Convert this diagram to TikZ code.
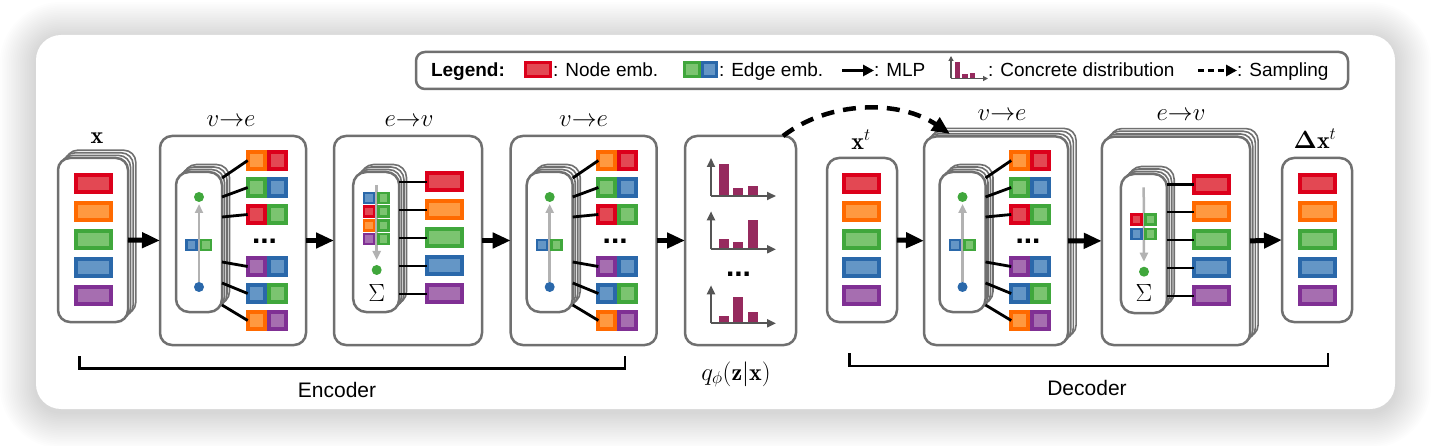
\documentclass[tikz,border=0pt]{standalone}
\usepackage{amsmath}
\usepackage{fontspec}
\newfontfamily\lsans{Liberation Sans}
\usetikzlibrary{arrows.meta,calc}
\definecolor{cR}{RGB}{220,0,27}\definecolor{cRL}{RGB}{227,72,83}
\definecolor{cO}{RGB}{255,106,0}\definecolor{cOL}{RGB}{255,153,64}
\definecolor{cG}{RGB}{64,167,60}\definecolor{cGL}{RGB}{123,196,112}
\definecolor{cB}{RGB}{42,104,170}\definecolor{cBL}{RGB}{100,150,198}
\definecolor{cP}{RGB}{128,48,148}\definecolor{cPL}{RGB}{166,110,176}
\definecolor{barc}{RGB}{150,42,94}
\definecolor{boxgray}{RGB}{112,112,112}
\definecolor{axisgray}{RGB}{85,85,85}
\definecolor{arrowgray}{RGB}{178,178,178}
\tikzset{
 every node/.style={inner sep=0pt, outer sep=0pt},
 box/.style={draw=boxgray, line width=2.5pt, fill=white, rounded corners=12pt},
 backline/.style={draw=boxgray, line width=1.6pt, fill=white},
 pill/.style={draw=boxgray, line width=2.5pt, fill=white, rounded corners=13pt, minimum width=46pt, minimum height=140pt},
 nemb/.style={draw=#1, fill=#1L, line width=4pt, minimum width=35pt, minimum height=17pt},
 eemb/.style={draw=#1, fill=#1L, line width=4pt, minimum width=17pt, minimum height=17pt},
 semb/.style={draw=#1, fill=#1L, line width=2.5pt, minimum width=10pt, minimum height=10pt},
 vdot/.style={circle, fill=#1, minimum size=10pt},
 conn/.style={line width=2.8pt, black},
 bigarrow/.style={line width=5pt, -{Triangle[length=18pt,width=15pt]}},
 grayarrow/.style={arrowgray, line width=2.5pt, -{Triangle[length=9pt,width=8pt]}},
 chartaxis/.style={axisgray, line width=2pt, -{Triangle[length=9pt,width=8pt]}},
 mlabel/.style={font=\fontsize{24}{28}\selectfont, anchor=base},
 stext/.style={font=\lsans\fontsize{19}{22}\selectfont, anchor=base west},
 ellip/.style={font=\lsans\bfseries\fontsize{30}{30}\selectfont},
 sigma/.style={font=\fontsize{27}{27}\selectfont},
}
\newcommand{\stackbox}[6]{%
 \foreach \k in {3,2,1}{\draw[backline, rounded corners=#5pt] (#1+#6*\k,#2-#6*\k) rectangle (#3+#6*\k,#4-#6*\k);}}
\newcommand{\vtoe}[2]{%
\begin{scope}[xshift=#2pt]
 \stackbox{176}{172}{222}{312}{13}{2.5}
 \node[pill] (#1p) at (199,242) {};
 \node[vdot=cG] (#1g) at (199,197) {};
 \node[vdot=cB] (#1b) at (199,287) {};
 \draw[grayarrow, shorten >=2pt] (#1b) -- (#1g);
 \node[semb=cB] (#1s1) at (191.5,245) {};
 \node[semb=cG] (#1s2) at (206,245) {};
 \foreach \y/\cl/\cr/\dy [count=\i] in {160.5/cO/cR/64, 187.5/cG/cB/45, 214.5/cR/cG/25, 266.5/cP/cB/-20, 293.5/cB/cG/-41, 320.5/cO/cP/-63}{
  \node[eemb=\cl] (#1L\i) at (256.2,\y) {};
  \node[eemb=\cr] (#1R\i) at (277.2,\y) {};
  \draw[conn] ([yshift=\dy pt]#1p.east) -- (#1L\i.west);
 }
 \node[ellip] (#1d) at (264.5,241.5) {...};
\end{scope}}
\begin{document}
\begin{tikzpicture}[x=1pt,y=-1pt]
\useasboundingbox (0,0) rectangle (1432,446);
\fill[white] (0,0) rectangle (1432,446);
% shadow and panel
\foreach \i in {1,...,20}{
 \pgfmathsetmacro\ex{1.8*\i}
 \pgfmathsetmacro\rr{25+1.8*\i}
 \fill[black, opacity=0.008, rounded corners=\rr pt] (36-\ex,38-\ex) rectangle (1395+\ex,412+\ex);
}
\fill[white, rounded corners=25pt] (36,35) rectangle (1395,409);

% legend
\node[draw=boxgray, line width=2.5pt, rounded corners=9pt, fill=white, minimum width=932pt, minimum height=37pt] (L) at (882,70.5) {};
\node[stext, font=\lsans\bfseries\fontsize{19}{22}\selectfont] (lg) at (431,77) {Legend:};
\node[draw=cR, fill=cRL, line width=3pt, minimum width=25pt, minimum height=14pt] (lnode) at (538,69.5) {};
\node[stext] (lnt) at (553,77) {: Node emb.};
\node[draw=cG, fill=cGL, line width=3pt, minimum width=14.5pt, minimum height=14pt] (le1) at (692,69.5) {};
\node[draw=cB, fill=cBL, line width=3pt, minimum width=14.5pt, minimum height=14pt] (le2) at (709.5,69.5) {};
\node[stext] (let) at (719,77) {: Edge emb.};
\coordinate (lmA) at (842,70.5); \coordinate (lmB) at (874,70.5);
\draw[line width=3.5pt, -{Triangle[length=11pt,width=11pt]}] (lmA) -- (lmB);
\node[stext] (lmt) at (874,77) {: MLP};
\fill[barc] (954.5,78.5) rectangle (960,62);
\fill[barc] (962,78.5) rectangle (967.5,74);
\fill[barc] (969.5,78.5) rectangle (975,73);
\coordinate (lo) at (951,78.5); \coordinate (lv) at (951,56); \coordinate (lh) at (988,78.5);
\draw[axisgray, line width=1.5pt, -{Triangle[length=5pt,width=5pt]}] (lo) -- (lv);
\draw[axisgray, line width=1.5pt, -{Triangle[length=5pt,width=5pt]}] (lo) -- (lh);
\node[stext] (lct) at (988,77) {: Concrete distribution};
\coordinate (lsA) at (1198,70.5); \coordinate (lsB) at (1237,70.5);
\draw[line width=3.5pt, dash pattern=on 6pt off 4pt, -{Triangle[length=11pt,width=11pt]}] (lsA) -- (lsB);
\node[stext] (lst) at (1237,77) {: Sampling};

% B0 : x
\stackbox{58}{158}{128}{322}{12}{2.6}
\node[box, minimum width=70pt, minimum height=164pt] (B0) at (93,240) {};
\foreach \c/\y [count=\i] in {cR/184,cO/212,cG/240,cB/268,cP/296}{\node[nemb=\c] (x\i) at (93.5,\y) {};}
\node[mlabel] (lx) at (97,143.3) {$\mathbf{x}$};

% B1 : v->e
\node[box, minimum width=146pt, minimum height=209pt] (B1) at (233,240.5) {};
\node[mlabel] (l1) at (231,126.7) {$v{\rightarrow}e$};
\vtoe{a}{0}

% B2 : e->v
\node[box, minimum width=148pt, minimum height=209pt] (B2) at (408,240.5) {};
\node[mlabel] (l2) at (409,126.7) {$e{\rightarrow}v$};
\stackbox{353.3}{172}{399}{312}{13}{2.5}
\node[pill] (P2) at (376.2,242) {};
\coordinate (P2top) at (376.7,185);
\node[vdot=cG] (P2g) at (376.7,270) {};
\draw[grayarrow, shorten >=5pt] (P2top) -- (P2g);
\foreach \cl/\y [count=\i] in {cB/198,cR/211.7,cO/225.4,cP/239.1}{
 \node[semb=\cl] (bL\i) at (369,\y) {};
 \node[semb=cG] (bR\i) at (383.5,\y) {};}
\node[sigma] (P2s) at (376.7,292.7) {$\Sigma$};
\foreach \c/\y [count=\i] in {cR/182,cO/210,cG/238,cB/266,cP/294}{
 \node[nemb=\c] (bn\i) at (444.5,\y) {};
 \draw[conn] (P2.east |- bn\i.west) -- (bn\i.west);}

% B3 : v->e
\node[box, minimum width=146pt, minimum height=209pt] (B3) at (583.7,240.5) {};
\node[mlabel] (l3) at (583.5,126.7) {$v{\rightarrow}e$};
\vtoe{c}{350.7}

% B4 : distributions
\node[box, minimum width=111pt, minimum height=209pt] (B4) at (740.5,240.5) {};
\foreach \b/\ha/\hb/\hc [count=\i] in {196/32/8.3/9.7, 249.3/10.3/7.3/29.3, 323.3/7.3/26.3/11.3}{
 \fill[barc] (719,\b) rectangle (729,\b-\ha);
 \fill[barc] (733.3,\b) rectangle (743.3,\b-\hb);
 \fill[barc] (747.7,\b) rectangle (757.7,\b-\hc);
 \coordinate (o\i) at (711,\b);
 \coordinate (v\i) at (711,\b-38);
 \coordinate (h\i) at (776,\b);
 \draw[chartaxis] (o\i) -- (v\i);
 \draw[chartaxis] (o\i) -- (h\i);
}
\node[ellip] (B4d) at (738.5,274) {...};
\node[mlabel] (q) at (736,380) {$q_\phi(\mathbf{z}|\mathbf{x})$};

% B5 : x^t
\node[box, minimum width=70pt, minimum height=164pt] (B5) at (862,240) {};
\foreach \c/\y [count=\i] in {cR/184,cO/212,cG/240,cB/268,cP/296}{\node[nemb=\c] (t\i) at (861.7,\y) {};}
\node[mlabel] (lxt) at (861,150) {$\mathbf{x}^t$};

% B6 : v->e decoder
\stackbox{924}{136.5}{1068}{345}{12}{2.7}
\node[box, minimum width=144pt, minimum height=208.5pt] (B6) at (996,240.75) {};
\node[mlabel] (l6) at (1002,120.7) {$v{\rightarrow}e$};
\vtoe{f}{763.5}

% B7 : e->v decoder
\stackbox{1101.7}{136.7}{1250}{345}{12}{2.7}
\node[box, minimum width=148.3pt, minimum height=208.3pt] (B7) at (1175.9,240.9) {};
\node[mlabel] (l7) at (1181,120.7) {$e{\rightarrow}v$};
\stackbox{1121}{174}{1166.7}{313}{13}{2.5}
\node[pill, minimum height=139pt] (P7) at (1143.9,243.5) {};
\coordinate (P7top) at (1143.7,187.3);
\node[vdot=cG] (P7g) at (1144,271.7) {};
\draw[grayarrow, shorten >=5pt] (P7top) -- (P7g);
\node[semb=cR] (gL1) at (1136.3,219.5) {};
\node[semb=cG] (gR1) at (1150.5,219.5) {};
\node[semb=cB] (gL2) at (1136.3,233.8) {};
\node[semb=cG] (gR2) at (1150.5,233.8) {};
\node[sigma] (P7s) at (1144,293.3) {$\Sigma$};
\foreach \c/\y [count=\i] in {cR/184.5,cO/212,cG/240,cB/268,cP/296}{
 \node[nemb=\c] (gn\i) at (1211.7,\y) {};
 \draw[conn] (P7.east |- gn\i.west) -- (gn\i.west);}

% B8 : Delta x^t
\node[box, minimum width=70pt, minimum height=164pt] (B8) at (1317,240) {};
\foreach \c/\y [count=\i] in {cR/184,cO/212,cG/240,cB/268,cP/296}{\node[nemb=\c] (d\i) at (1317.5,\y) {};}
\node[mlabel] (ldx) at (1315,148.3) {$\boldsymbol{\Delta}\mathbf{x}^t$};

% MLP arrows
\draw[bigarrow] (B0.east) -- (B1.west);
\draw[bigarrow] (B1.east) -- (B2.west);
\draw[bigarrow] (B2.east) -- (B3.west);
\draw[bigarrow] (B3.east) -- (B4.west);
\draw[bigarrow] (B5.east) -- (B6.west);
\draw[bigarrow] (B6.east) -- (B7.west);
\draw[bigarrow] (B7.east) -- (B8.west);

% sampling
\coordinate (sampS) at (783,136);
\coordinate (sampE) at (950,134);
\draw[line width=4.5pt, dash pattern=on 13pt off 9pt, -{Triangle[length=18pt,width=15pt]}] (sampS) .. controls (830,100) and (900,100) .. (sampE);

% brackets
\draw[line width=2.5pt] (79.3,356) -- (79.3,368.3) -- (624.8,368.3) -- (624.8,356);
\draw[line width=2.5pt] (849.4,353.3) -- (849.4,366) -- (1328,366) -- (1328,353.3);
\node[font=\lsans\fontsize{21}{24}\selectfont, anchor=base] (enc) at (337,397) {Encoder};
\node[font=\lsans\fontsize{21}{24}\selectfont, anchor=base] (dec) at (1087,395) {Decoder};
\end{tikzpicture}
\end{document}
